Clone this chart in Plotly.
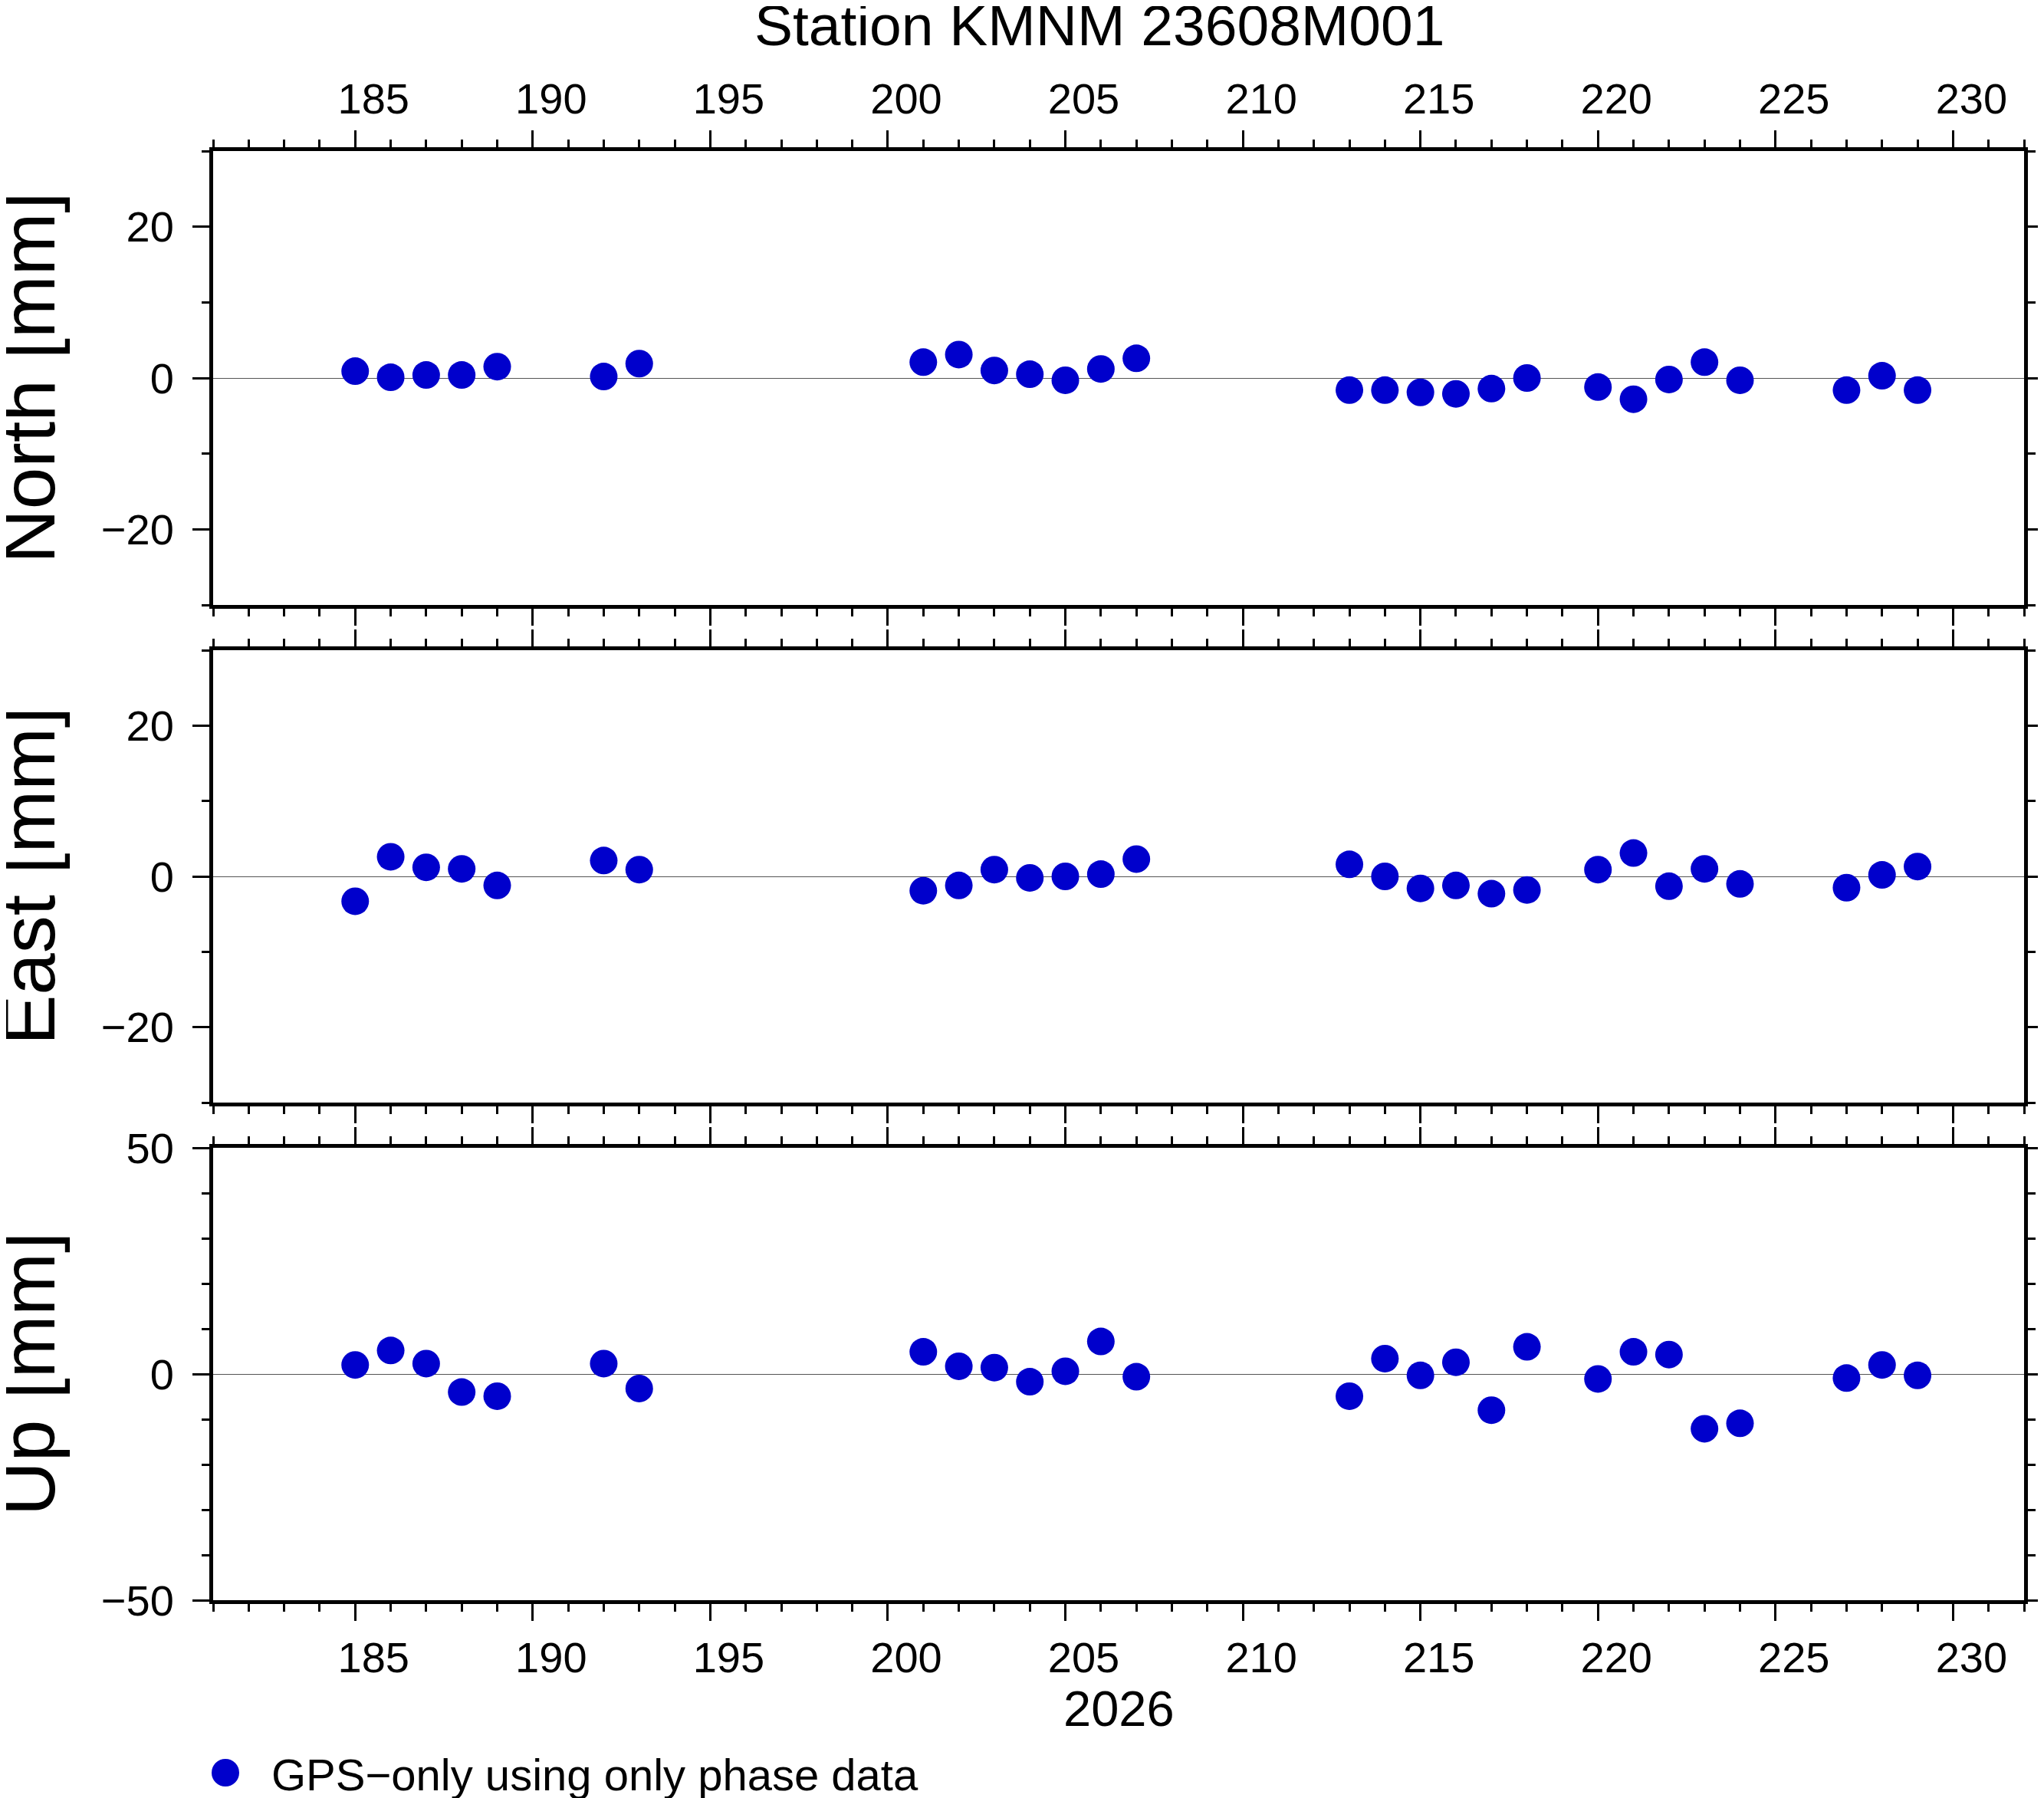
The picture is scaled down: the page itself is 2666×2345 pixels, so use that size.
import plotly.graph_objects as go

# day of year 2026
days = [185, 186, 187, 188, 189, 192, 193, 201, 202, 203, 204, 205, 206, 207,
        213, 214, 215, 216, 217, 218, 220, 221, 222, 223, 224, 227, 228, 229]

north = [0.9, 0.1, 0.4, 0.4, 1.5, 0.2, 1.9, 2.1, 3.1, 1.0, 0.5, -0.3, 1.2, 2.6,
         -1.6, -1.6, -1.9, -2.1, -1.4, 0.0, -1.2, -2.8, -0.2, 2.1, -0.3, -1.6, 0.3, -1.6]

east = [-3.3, 2.6, 1.2, 1.0, -1.2, 2.1, 0.9, -1.9, -1.2, 0.9, -0.2, 0.0, 0.3, 2.3,
        1.6, 0.0, -1.6, -1.2, -2.3, -1.8, 0.9, 3.1, -1.3, 1.0, -1.0, -1.5, 0.2, 1.3]

up = [2.0, 5.2, 2.3, -4.0, -4.9, 2.3, -3.2, 4.9, 1.7, 1.4, -1.7, 0.6, 7.2, -0.6,
      -4.9, 3.4, -0.3, 2.6, -8.0, 6.0, -1.1, 4.9, 4.3, -12.1, -10.9, -0.9, 2.0, -0.3]

title_text = "Station KMNM 23608M001"
panel_titles = ["North [mm]", "East [mm]", "Up [mm]"]
year_label = "2026"
legend_label = "GPS\u2212only using only phase data"

# page is 2666x2345; the html body adds an 8px margin, so the figure is
# shifted by that and everything is placed in page pixels
OFF = 8
W, H = 2666 - OFF, 2345 - OFF
PLOT_L, PLOT_R, PLOT_T, PLOT_B = 278, 2640, 197, 2087   # page px
L, T = PLOT_L - OFF, PLOT_T - OFF
R, B = W - (PLOT_R - OFF), H - (PLOT_B - OFF)
PW, PH = W - L - R, H - T - B

FONT = "Liberation Sans, Arial, Helvetica, sans-serif"
BLUE = "rgb(0,0,204)"


def px_x(px):
    return (px - PLOT_L) / PW


def px_y(py):
    return (PLOT_B - py) / PH


# panel rows in page pixels
panels = [(197, 789), (848, 1438), (1497, 2087)]
domains = [[px_y(b), px_y(t)] for t, b in panels]

fig = go.Figure()
for i, vals in enumerate([north, east, up]):
    sfx = "" if i == 0 else str(i + 1)
    fig.add_trace(go.Scatter(
        x=days, y=vals, mode="markers",
        marker=dict(size=36, color=BLUE, line=dict(width=0)),
        xaxis="x" + sfx, yaxis="y" + sfx, showlegend=False,
        name=legend_label
    ))

tickfont = dict(family=FONT, size=56, color="black")
xbase = dict(range=[181, 232], tick0=185, dtick=5, ticks="outside", ticklen=22,
             tickwidth=3, tickcolor="black", showline=True, linewidth=5,
             linecolor="black", mirror="ticks", showgrid=False, zeroline=False,
             tickfont=tickfont, ticklabelshift=24,
             minor=dict(ticks="outside", tick0=181, dtick=1, ticklen=10,
                        tickwidth=3, tickcolor="black", showgrid=False))
ybase = dict(ticks="outside", ticklen=22, tickwidth=3, tickcolor="black",
             showline=True, linewidth=5, linecolor="black", mirror="ticks",
             showgrid=False, zeroline=True, zerolinecolor="#555",
             zerolinewidth=1.2, tickfont=tickfont, ticklabelstandoff=13)

layout_axes = {}
yranges = [[-30, 30], [-30, 30], [-50, 50]]
ydticks = [20, 20, 50]
for i in range(3):
    sfx = "" if i == 0 else str(i + 1)
    xa = dict(xbase, anchor="y" + sfx)
    if i == 0:
        xa["side"] = "top"
    elif i == 1:
        xa["showticklabels"] = False
    layout_axes["xaxis" + sfx] = xa
    layout_axes["yaxis" + sfx] = dict(
        ybase, anchor="x" + sfx, domain=domains[i], range=yranges[i],
        tick0=0, dtick=ydticks[i],
        minor=dict(ticks="outside", tick0=0, dtick=10, ticklen=10,
                   tickwidth=3, tickcolor="black", showgrid=False))

annotations = [
    dict(text=title_text, x=px_x(1434), y=px_y(33), xref="paper", yref="paper",
         xanchor="center", yanchor="middle", showarrow=False,
         font=dict(family=FONT, size=75, color="black")),
    dict(text=year_label, x=px_x(1459), y=px_y(2228), xref="paper", yref="paper",
         xanchor="center", yanchor="middle", showarrow=False,
         font=dict(family=FONT, size=65, color="black")),
    dict(text=legend_label, x=px_x(352), y=px_y(2314), xref="paper", yref="paper",
         xanchor="left", yanchor="middle", showarrow=False,
         font=dict(family=FONT, size=58, color="black")),
]
for (t, b), label in zip(panels, panel_titles):
    annotations.append(dict(
        text=label, textangle=-90, x=px_x(37), y=px_y((t + b) / 2),
        xref="paper", yref="paper", xanchor="center", yanchor="middle",
        showarrow=False, font=dict(family=FONT, size=98, color="black")))

# legend dot
lx, ly = px_x(294), px_y(2312)
shapes = [dict(type="circle", xref="paper", yref="paper",
               xsizemode="pixel", ysizemode="pixel", xanchor=lx, yanchor=ly,
               x0=-18, x1=18, y0=-18, y1=18, fillcolor=BLUE,
               line=dict(width=0))]

fig.update_layout(
    width=W, height=H, margin=dict(l=L, r=R, t=T, b=B, autoexpand=False),
    paper_bgcolor="white", plot_bgcolor="white",
    font=dict(family=FONT, color="black"),
    annotations=annotations, shapes=shapes, showlegend=False,
    **layout_axes
)

fig.write_html("out.html")
